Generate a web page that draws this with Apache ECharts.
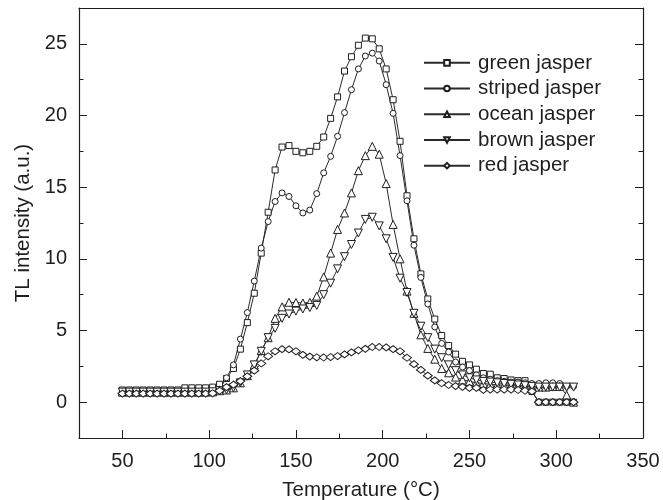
<!DOCTYPE html>
<html>
<head>
<meta charset="utf-8">
<script src="https://cdn.jsdelivr.net/npm/echarts@6/dist/echarts.min.js"></script>
<style>
html,body{margin:0;padding:0;background:#fff;}
#chart{width:663px;height:500px;}
</style>
</head>
<body>
<div id="chart"></div>
<script>
// Temperature grid (°C)
var temperature = [];
for (var t = 50; t <= 310; t += 4) temperature.push(t);

// TL intensity (a.u.), one value per temperature
var greenJasper = [
0.85,0.85,0.85,0.85,0.85,0.85,0.85,0.85,0.85,1.0,1.0,1.0,1.0,1.05,1.25,1.65,2.35,3.7,5.55,7.6,
10.4,13.25,16.2,17.8,17.9,17.5,17.4,17.5,17.85,18.5,19.8,21.3,23.1,24.1,24.9,25.4,25.35,24.65,23.25,21.1,
18.2,14.4,11.4,8.95,7.2,5.8,4.65,3.95,3.35,2.85,2.6,2.3,2.0,1.95,1.7,1.65,1.55,1.5,1.5,0.75,
0,0,0,0,0,0];
var stripedJasper = [
0.7,0.7,0.7,0.7,0.7,0.7,0.7,0.7,0.7,0.7,0.7,0.7,0.7,0.75,0.9,1.7,2.6,4.4,6.25,8.45,
10.75,12.6,14.0,14.6,14.35,13.7,13.2,13.4,14.55,16.0,17.15,18.55,20.2,21.8,23.25,24.15,24.35,23.8,22.15,20.15,
17.2,14.05,10.95,8.7,6.85,5.25,4.1,3.5,2.8,2.45,2.2,1.9,1.7,1.6,1.5,1.45,1.4,1.4,1.35,1.3,
1.3,1.35,1.35,1.3,1.1,1.1];
var oceanJasper = [
0.7,0.7,0.7,0.7,0.7,0.7,0.7,0.7,0.7,0.7,0.7,0.7,0.7,0.72,0.8,0.85,1.0,1.35,1.85,2.6,
3.6,4.5,5.85,6.65,6.97,6.95,6.92,6.96,7.4,8.74,10.4,12.05,13.2,14.6,16.15,17.2,17.85,17.3,15.25,12.4,
10.0,7.75,6.2,4.7,3.75,3.0,2.35,2.05,1.75,1.55,1.45,1.35,1.3,1.25,1.2,1.2,1.15,1.15,1.1,1.05,
1.05,1.05,1.1,1.1,0.5,0.0];
var brownJasper = [
0.7,0.7,0.7,0.7,0.7,0.7,0.7,0.7,0.7,0.7,0.7,0.7,0.7,0.72,0.8,0.85,1.0,1.35,1.9,2.6,
3.55,4.5,5.15,5.85,6.15,6.35,6.5,6.6,6.75,7.5,8.3,9.3,10.15,11.0,11.8,12.75,12.9,12.3,11.4,10.1,
8.65,7.65,6.2,5.3,4.5,3.7,3.1,2.6,2.2,1.9,1.7,1.55,1.45,1.4,1.35,1.3,1.25,1.2,1.15,1.1,
1.05,1.05,1.05,1.05,1.05,1.05];
var redJasper = [
0.6,0.6,0.6,0.6,0.6,0.6,0.6,0.6,0.6,0.6,0.6,0.6,0.6,0.62,0.8,1.05,1.22,1.47,1.8,2.2,
2.7,3.2,3.55,3.7,3.68,3.55,3.3,3.18,3.13,3.12,3.15,3.22,3.33,3.47,3.62,3.72,3.85,3.85,3.82,3.7,
3.55,3.1,2.65,2.25,1.85,1.52,1.32,1.2,1.12,1.07,1.0,1.0,0.86,0.88,0.88,0.88,0.88,0.85,0.8,0.75,
0,0,0,0,0,0];

var seriesNames = ['green jasper','striped jasper','ocean jasper','brown jasper','red jasper'];
var xMajorTicks = [50,100,150,200,250,300,350];
var xMinorTicks = [75,125,175,225,275,325];
var yMajorTicks = [0,5,10,15,20,25];
var yMinorTicks = [2.5,7.5,12.5,17.5,22.5];

function pairs(ys){ return temperature.map(function(x,i){ return [x, ys[i]]; }); }

var INK = '#1e1e1e';
var FONT = '"Liberation Sans", Arial, Helvetica, sans-serif';
var xMin = 25, xMax = 350, yMin = -2.5, yMax = 27.5;

function mkSeries(name, data, symbol, size, rot){
  return {
    name: name, type: 'line', data: pairs(data),
    xAxisIndex: 0, yAxisIndex: 0,
    symbol: symbol, symbolSize: size, symbolRotate: rot || 0,
    showAllSymbol: true,
    lineStyle: {color: '#2a2a2a', width: 1},
    itemStyle: {color: '#fff', borderColor: INK, borderWidth: 1},
    emphasis: {disabled: true},
    animation: false
  };
}

var chart = echarts.init(document.getElementById('chart'), null, {renderer: 'canvas'});
var axisLineStyle = {onZero: false, lineStyle: {color: INK, width: 1.2}};
var noLine = {show: false, onZero: false};
chart.setOption({
  backgroundColor: '#fff',
  animation: false,
  grid: {left: 79, right: 20, top: 8, bottom: 62, containLabel: false, outerBoundsMode: 'none'},
  legend: {
    orient: 'vertical', left: 423, top: 50, padding: 0,
    itemWidth: 46, itemHeight: 7, itemGap: 0,
    data: seriesNames,
    textStyle: {fontFamily: FONT, fontSize: 20.5, color: INK, lineHeight: 25.7, padding: [0,0,0,3]},
    selectedMode: false
  },
  xAxis: [
    {type: 'value', min: xMin, max: xMax, position: 'bottom',
     axisLine: axisLineStyle,
     axisTick: {inside: true, length: 8, customValues: xMajorTicks, lineStyle: {color: INK}},
     axisLabel: {customValues: xMajorTicks, fontFamily: FONT, fontSize: 20, color: INK, margin: 13},
     splitLine: {show: false},
     name: 'Temperature (°C)', nameLocation: 'middle', nameGap: 42,
     nameTextStyle: {fontFamily: FONT, fontSize: 20.5, color: INK}},
    {type: 'value', min: xMin, max: xMax, position: 'bottom',
     axisLine: noLine,
     axisTick: {inside: true, length: 4.5, customValues: xMinorTicks, lineStyle: {color: INK}},
     axisLabel: {show: false}, splitLine: {show: false}},
    {type: 'value', min: xMin, max: xMax, position: 'top',
     axisLine: axisLineStyle, axisTick: {show: false}, axisLabel: {show: false}, splitLine: {show: false}}
  ],
  yAxis: [
    {type: 'value', min: yMin, max: yMax, position: 'left',
     axisLine: axisLineStyle,
     axisTick: {inside: true, length: 8, customValues: yMajorTicks, lineStyle: {color: INK}},
     axisLabel: {customValues: yMajorTicks, fontFamily: FONT, fontSize: 20, color: INK, margin: 12},
     splitLine: {show: false},
     name: 'TL intensity (a.u.)', nameLocation: 'middle', nameGap: 42, nameRotate: 90,
     nameTextStyle: {fontFamily: FONT, fontSize: 20.5, color: INK}},
    {type: 'value', min: yMin, max: yMax, position: 'left',
     axisLine: noLine,
     axisTick: {inside: true, length: 4.5, customValues: yMinorTicks, lineStyle: {color: INK}},
     axisLabel: {show: false}, splitLine: {show: false}},
    {type: 'value', min: yMin, max: yMax, position: 'right',
     axisLine: axisLineStyle,
     axisTick: {inside: true, length: 8, customValues: yMajorTicks, lineStyle: {color: INK}},
     axisLabel: {show: false}, splitLine: {show: false}},
    {type: 'value', min: yMin, max: yMax, position: 'right',
     axisLine: noLine,
     axisTick: {inside: true, length: 4.5, customValues: yMinorTicks, lineStyle: {color: INK}},
     axisLabel: {show: false}, splitLine: {show: false}}
  ],
  series: [
    mkSeries(seriesNames[0], greenJasper, 'rect', 6),
    mkSeries(seriesNames[1], stripedJasper, 'circle', 6),
    mkSeries(seriesNames[2], oceanJasper, 'triangle', 8),
    mkSeries(seriesNames[3], brownJasper, 'triangle', 8, 180),
    mkSeries(seriesNames[4], redJasper, 'diamond', [9,7])
  ]
});
</script>
</body>
</html>
